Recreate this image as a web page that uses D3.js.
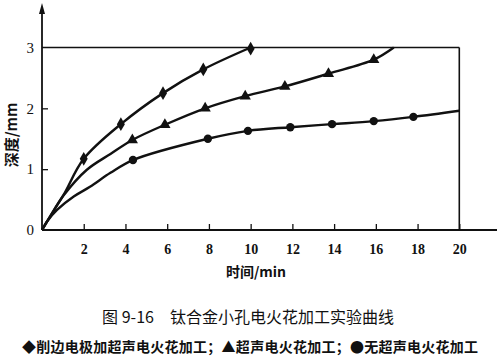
<!DOCTYPE html>
<html><head><meta charset="utf-8">
<script src="https://cdn.jsdelivr.net/npm/d3@7"></script>
<style>body{margin:0;background:#fff}svg{display:block}</style>
</head><body>
<svg id="c" width="500" height="361"></svg>
<script>
// ---- data ----
const xTicks = [2,4,6,8,10,12,14,16,18,20];
const yTicks = [0,1,2,3];
const xLabel = "时间/min";
const yLabel = "深度/mm";
const caption = "图 9-16　钛合金小孔电火花加工实验曲线";
const legendText = "◆削边电极加超声电火花加工；▲超声电火花加工；●无超声电火花加工";

// series 1: 削边电极加超声电火花加工 (diamond)
const diamondCurveX = [0,0.4,1.04,2.0,3.78,5.8,7.73,10.0];
const diamondCurveY = [0,0.23,0.58,1.17,1.74,2.25,2.64,3.0];
const diamondX = [2.0,3.78,5.8,7.73,10.0];
const diamondY = [1.17,1.74,2.25,2.64,2.98];

// series 2: 超声电火花加工 (triangle)
const triCurveX = [0,0.4,1.04,2.15,3.28,4.33,5.89,7.82,9.74,11.64,13.73,15.9,16.86];
const triCurveY = [0,0.23,0.57,0.99,1.25,1.48,1.73,2.0,2.2,2.36,2.57,2.8,3.0];
const triX = [4.33,5.89,7.82,9.74,11.64,13.73,15.9];
const triY = [1.48,1.73,2.0,2.2,2.36,2.57,2.8];

// series 3: 无超声电火花加工 (circle)
const circCurveX = [0,0.24,0.72,1.52,2.3,3.28,4.36,7.95,9.87,11.9,13.9,15.9,17.8,20];
const circCurveY = [0,0.14,0.33,0.55,0.71,0.94,1.15,1.5,1.63,1.69,1.74,1.79,1.86,1.96];
const circX = [4.36,7.95,9.87,11.9,13.9,15.9,17.8];
const circY = [1.15,1.5,1.63,1.69,1.74,1.79,1.86];

// ---- drawing ----
const svg = d3.select("#c");
const x = d3.scaleLinear().domain([0,20]).range([42,459.3]);
const y = d3.scaleLinear().domain([0,3]).range([230,47.5]);
const serif = "'Liberation Serif','DejaVu Serif',serif";
const cjk = "'Noto Sans CJK SC','Noto Sans',sans-serif";
const ink = "#111";

// x axis line (extends past the frame)
svg.append("line").attr("x1",x(0)).attr("x2",497).attr("y1",y(0)).attr("y2",y(0))
  .attr("stroke",ink).attr("stroke-width",2);
// y axis line with arrow
svg.append("line").attr("x1",x(0)).attr("x2",x(0)).attr("y1",y(0)).attr("y2",10)
  .attr("stroke",ink).attr("stroke-width",1.8);
svg.append("path").attr("d",`M${x(0)-3},${14} L${x(0)},${3} L${x(0)+3},${14} Z`).attr("fill",ink);

// frame: top line at y=3 and right line at x=20
svg.append("line").attr("x1",x(0)).attr("x2",x(20)).attr("y1",y(3)).attr("y2",y(3))
  .attr("stroke",ink).attr("stroke-width",1.6);
svg.append("line").attr("x1",x(20)).attr("x2",x(20)).attr("y1",y(3)).attr("y2",y(0))
  .attr("stroke",ink).attr("stroke-width",1.6);

// x ticks (upward) and labels
const xAxis = d3.axisBottom(x).tickValues(xTicks).tickSize(0).tickPadding(14).tickFormat(d3.format("d"));
const gx = svg.append("g").attr("transform",`translate(0,${y(0)})`).call(xAxis);
gx.select(".domain").remove();
gx.selectAll(".tick text").attr("font-family",serif).attr("font-size",14).attr("font-weight","bold").attr("fill",ink);
gx.selectAll(".tick").append("line").attr("y1",0).attr("y2",-6).attr("stroke",ink).attr("stroke-width",1.3);

// y labels and small inward ticks
const yAxis = d3.axisLeft(y).tickValues(yTicks).tickSize(0).tickPadding(8).tickFormat(d3.format("d"));
const gy = svg.append("g").attr("transform",`translate(${x(0)},0)`).call(yAxis);
gy.select(".domain").remove();
gy.selectAll(".tick text").attr("font-family",serif).attr("font-size",15).attr("fill",ink);
gy.selectAll(".tick").filter(d=>d===1||d===2).append("line").attr("x1",0).attr("x2",6).attr("stroke",ink).attr("stroke-width",1.3);

// axis titles
svg.append("text").attr("x",256).attr("y",277).attr("text-anchor","middle")
  .attr("font-family",cjk).attr("font-size",14).attr("font-weight","bold").attr("fill",ink).text(xLabel);
svg.append("text").attr("transform","translate(17,135) rotate(-90)").attr("text-anchor","middle")
  .attr("font-family",cjk).attr("font-size",15).attr("font-weight","bold").attr("fill",ink).text(yLabel);

// curves
const line = d3.line().x(d=>x(d[0])).y(d=>y(d[1])).curve(d3.curveCatmullRom.alpha(0.5));
function curve(xs,ys){
  svg.append("path").datum(xs.map((v,i)=>[v,ys[i]])).attr("d",line)
    .attr("fill","none").attr("stroke",ink).attr("stroke-width",2.4);
}
curve(diamondCurveX,diamondCurveY);
curve(triCurveX,triCurveY);
curve(circCurveX,circCurveY);

// markers
function markers(xs,ys,type,size){
  svg.append("g").selectAll("path").data(xs.map((v,i)=>[v,ys[i]])).join("path")
    .attr("transform",d=>`translate(${x(d[0])},${y(d[1])})`)
    .attr("d",d3.symbol().type(type).size(size)).attr("fill",ink);
}
markers(diamondX,diamondY,d3.symbolDiamond,55);
markers(triX,triY,d3.symbolTriangle,55);
markers(circX,circY,d3.symbolCircle,55);

// caption & legend
svg.append("text").attr("x",248).attr("y",323).attr("text-anchor","middle")
  .attr("font-family",cjk).attr("font-size",16).attr("fill",ink).text(caption);
svg.append("text").attr("x",250).attr("y",352).attr("text-anchor","middle")
  .attr("font-family",cjk).attr("font-size",14).attr("font-weight","bold").attr("fill",ink)
  .attr("textLength",456).attr("lengthAdjust","spacing").text(legendText);
</script>
</body></html>
